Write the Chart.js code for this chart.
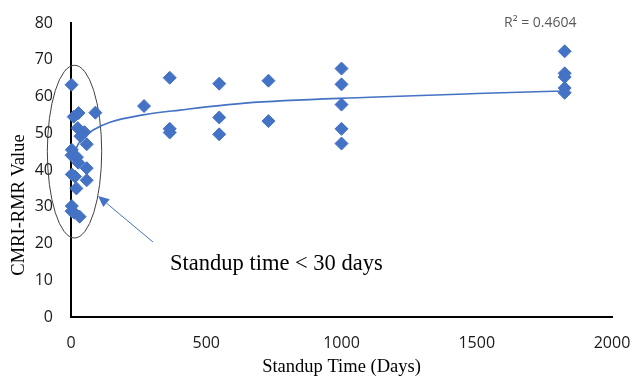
<!DOCTYPE html>
<html>
<head>
<meta charset="utf-8">
<script src="https://cdn.jsdelivr.net/npm/chart.js@4.4.1/dist/chart.umd.min.js"></script>
<style>
  html, body { margin: 0; padding: 0; background: #ffffff; }
  #wrap { width: 633px; height: 377px; }
</style>
</head>
<body>
<div id="wrap"><canvas id="c" width="633" height="377"></canvas></div>
<script>
// ---- Data ----
const standupDays = [
  2, 10, 28, 90, 25, 50, 35, 58, 3, 2, 22, 27, 58, 3, 15, 58, 20, 3, 2, 12, 32,
  270, 365, 365, 365, 548, 548, 548, 730, 730,
  1000, 1000, 1000, 1000, 1000,
  1825, 1825, 1825, 1825, 1825
];
const cmriValues = [
  63.2, 54.5, 55.5, 55.6, 51.4, 50.3, 49.2, 47.0, 45.5, 44.0, 43.5, 42.0, 40.5, 38.8, 38.2, 37.2, 35.0, 30.2, 28.8, 28.4, 27.3,
  57.4, 65.1, 51.2, 50.2, 63.5, 54.3, 49.7, 64.3, 53.3,
  67.6, 63.3, 57.8, 51.2, 47.2,
  72.3, 66.3, 65.3, 62.3, 61.0
];
// Logarithmic trend line
const trendDays   = [8, 15, 21, 35, 50, 82, 144, 267, 403, 643, 1105, 1500, 1825];
const trendValues = [43.0, 45.0, 46.2, 48.0, 49.2, 50.9, 53.0, 55.0, 56.3, 58.2, 59.8, 60.8, 61.5];
const xTicks = [0, 500, 1000, 1500, 2000];
const yTicks = [0, 10, 20, 30, 40, 50, 60, 70, 80];

const rSquaredText = 'R\u00B2 = 0.4604';
const xTitle = 'Standup Time (Days)';
const yTitle = 'CMRI-RMR Value';
const noteText = 'Standup time < 30 days';

const BLUE = '#4472C4';

const scatterPts = standupDays.map((d, i) => ({ x: d, y: cmriValues[i] }));
const trendPts = trendDays.map((d, i) => ({ x: d, y: trendValues[i] }));

// annotation geometry (in data units)
const ellipse = { cx: 13, cy: 45, rxDays: 100.5, ryVal: 23.5 };
const arrow = { fromX: 303, fromY: 20.4, toX: 100, toY: 32.9 };

const annot = {
  id: 'annot',
  beforeDatasetsDraw(chart) {
    const { ctx, scales: { x, y } } = chart;
    const cx = x.getPixelForValue(ellipse.cx);
    const cy = y.getPixelForValue(ellipse.cy);
    const rx = x.getPixelForValue(ellipse.cx + ellipse.rxDays) - cx;
    const ry = cy - y.getPixelForValue(ellipse.cy + ellipse.ryVal);
    ctx.save();
    ctx.beginPath();
    ctx.ellipse(cx, cy, rx, ry, 0, 0, Math.PI * 2);
    ctx.strokeStyle = '#404040';
    ctx.lineWidth = 1;
    ctx.stroke();
    ctx.restore();
  },
  afterDraw(chart) {
    const { ctx, chartArea, scales: { x, y } } = chart;
    ctx.save();
    // arrow
    const x1 = x.getPixelForValue(arrow.fromX), y1 = y.getPixelForValue(arrow.fromY);
    const x2 = x.getPixelForValue(arrow.toX), y2 = y.getPixelForValue(arrow.toY);
    const ang = Math.atan2(y2 - y1, x2 - x1);
    const headLen = 11, headW = 5;
    const bx = x2 - headLen * Math.cos(ang), by = y2 - headLen * Math.sin(ang);
    ctx.strokeStyle = BLUE;
    ctx.fillStyle = BLUE;
    ctx.lineWidth = 1;
    ctx.beginPath();
    ctx.moveTo(x1, y1);
    ctx.lineTo(bx, by);
    ctx.stroke();
    ctx.beginPath();
    ctx.moveTo(x2, y2);
    ctx.lineTo(bx + headW * Math.sin(ang), by - headW * Math.cos(ang));
    ctx.lineTo(bx - headW * Math.sin(ang), by + headW * Math.cos(ang));
    ctx.closePath();
    ctx.fill();

    // note text
    ctx.fillStyle = '#000000';
    ctx.font = '22.5px "Liberation Serif", "Times New Roman", serif';
    ctx.textAlign = 'left';
    ctx.textBaseline = 'alphabetic';
    ctx.fillText(noteText, 170, 270);

    // R squared
    ctx.fillStyle = '#595959';
    ctx.font = '14px "Open Sans", sans-serif';
    ctx.textAlign = 'left';
    ctx.textBaseline = 'middle';
    ctx.fillText(rSquaredText, 504, 23);

    // axis titles
    ctx.fillStyle = '#000000';
    ctx.font = '18.5px "Liberation Serif", "Times New Roman", serif';
    ctx.textAlign = 'center';
    ctx.textBaseline = 'middle';
    ctx.fillText(xTitle, (chartArea.left + chartArea.right) / 2, 367);
    ctx.translate(19, 205);
    ctx.rotate(-Math.PI / 2);
    ctx.fillText(yTitle, 0, 0);
    ctx.restore();
  }
};

new Chart(document.getElementById('c'), {
  type: 'scatter',
  data: {
    datasets: [
      {
        label: 'CMRI-RMR',
        data: scatterPts,
        pointStyle: 'rectRot',
        pointRadius: 6.5,
        pointHoverRadius: 6.5,
        backgroundColor: BLUE,
        borderColor: BLUE,
        borderWidth: 1,
        clip: false,
        order: 1
      },
      {
        label: 'Trend',
        data: trendPts,
        showLine: true,
        pointRadius: 0,
        borderColor: BLUE,
        borderWidth: 1.6,
        cubicInterpolationMode: 'monotone',
        fill: false,
        order: 2
      }
    ]
  },
  options: {
    responsive: false,
    animation: false,
    layout: { padding: { left: 0, right: 21, top: 23, bottom: 0 } },
    plugins: { legend: { display: false }, tooltip: { enabled: false } },
    scales: {
      x: {
        type: 'linear',
        min: 0, max: 2000,
        afterFit(s) { s.height = 60; s.paddingLeft = 0; s.paddingRight = 0; },
        afterBuildTicks(s) { s.ticks = xTicks.map(v => ({ value: v })); },
        grid: { display: false, drawTicks: false },
        border: { display: true, color: '#000000', width: 2 },
        ticks: { padding: 17, color: '#1a1a1a', font: { family: '"Open Sans", sans-serif', size: 16 }, maxRotation: 0,
                 callback: v => String(v) }
      },
      y: {
        type: 'linear',
        min: 0, max: 80,
        afterFit(s) { s.width = 71; s.paddingTop = 0; s.paddingBottom = 0; },
        afterBuildTicks(s) { s.ticks = yTicks.map(v => ({ value: v })); },
        grid: { display: false, drawTicks: false },
        border: { display: true, color: '#000000', width: 2 },
        ticks: { padding: 18, color: '#1a1a1a', font: { family: '"Open Sans", sans-serif', size: 16 },
                 callback: v => String(v) }
      }
    }
  },
  plugins: [annot]
});
</script>
</body>
</html>
